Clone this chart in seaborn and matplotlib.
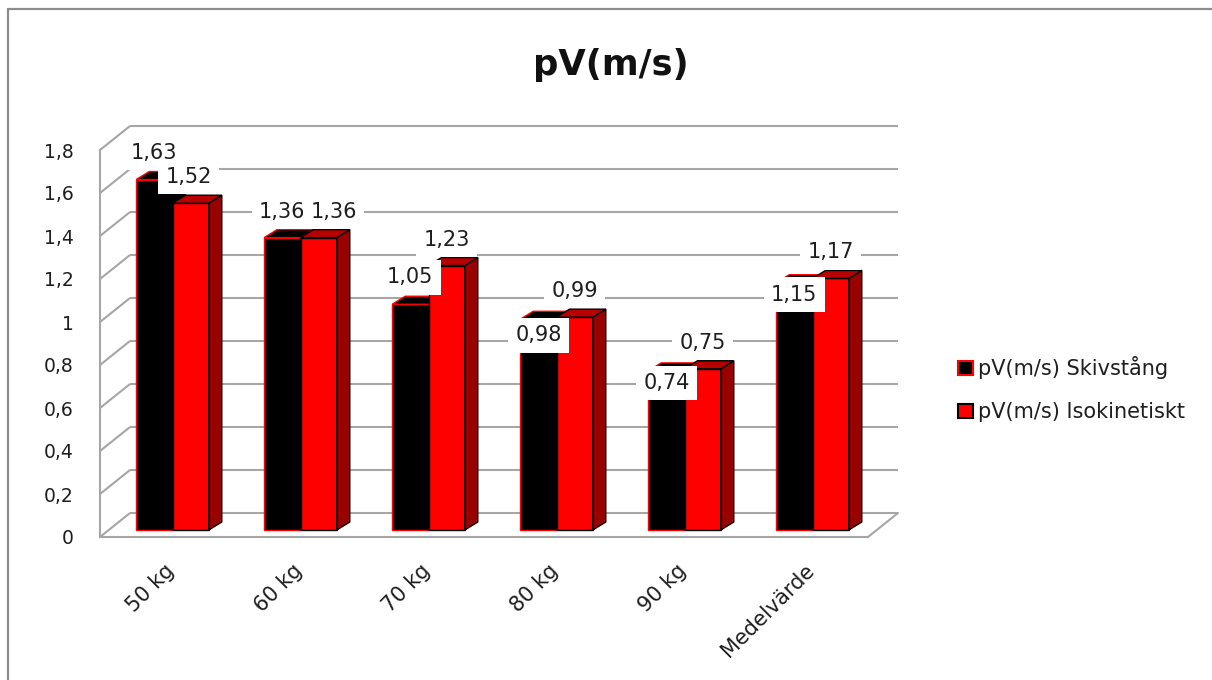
import matplotlib
matplotlib.use("Agg")
import matplotlib.pyplot as plt
import pandas as pd
import seaborn as sns
from matplotlib.patches import Polygon, Patch
from matplotlib.lines import Line2D
from matplotlib.transforms import ScaledTranslation

# ---- data -------------------------------------------------------------
categories = ["50 kg", "60 kg", "70 kg", "80 kg", "90 kg", "Medelvärde"]
skivstang = [1.63, 1.36, 1.05, 0.98, 0.74, 1.15]
isokinetiskt = [1.52, 1.36, 1.23, 0.99, 0.75, 1.17]
series_names = ["pV(m/s) Skivstång", "pV(m/s) Isokinetiskt"]
y_ticks = [0, 0.2, 0.4, 0.6, 0.8, 1.0, 1.2, 1.4, 1.6, 1.8]
chart_title = "pV(m/s)"

# ---- styling / layout -------------------------------------------------
W, H, DPI = 1212, 680, 100
BLACK, RED = "#000000", "#ff0000"
RED_TOP, RED_SIDE = "#b80000", "#990000"
GRID = "#a6a6a6"
TEXT = "#1e1e1e"

# front plane of the 3-D box (pixels)
AX_L, AX_R, AX_B, AX_T = 100, 868, 537, 150
WALL_DX, WALL_DY = 30, 24      # depth of walls/floor (px)
BAR_DX, BAR_DY = 13, 8         # depth of each column (px)
BAR_SHIFT = (8.5, 7)           # column front faces sit slightly behind the front plane

# per-label nudges (px) to keep value labels from colliding
label_dy_black = [27, 26, 27, -16, -12, -12]
label_dx_red = [-2, 15, 0, 0, 0, 0]
LABEL_DY_RED = 26

sns.set_theme(style="white")
plt.rcParams["font.family"] = ["DejaVu Sans"]

fig = plt.figure(figsize=(W / DPI, H / DPI), dpi=DPI)
ax = fig.add_axes([AX_L / W, 1 - AX_B / H, (AX_R - AX_L) / W, (AX_B - AX_T) / H])

df = pd.DataFrame({
    "category": categories * 2,
    "series": [series_names[0]] * len(categories) + [series_names[1]] * len(categories),
    "value": skivstang + isokinetiskt,
})

sns.barplot(data=df, x="category", y="value", hue="series", order=categories,
            hue_order=series_names, palette=[BLACK, RED], saturation=1,
            width=0.567, legend=False, ax=ax)

ax.set_xlim(-0.5, len(categories) - 0.5)
ax.set_ylim(0, 1.8)

# pixel -> data unit conversion
px_x = (ax.get_xlim()[1] - ax.get_xlim()[0]) / (AX_R - AX_L)
px_y = (ax.get_ylim()[1] - ax.get_ylim()[0]) / (AX_B - AX_T)

# ---- walls, floor and gridlines ---------------------------------------
x_left, x_right = ax.get_xlim()
wdx, wdy = WALL_DX * px_x, WALL_DY * px_y
for t in y_ticks:
    ax.plot([x_left, x_left + wdx], [t, t + wdy], color=GRID, lw=1.5,
            clip_on=False, zorder=1, solid_capstyle="butt")
    ax.plot([x_left + wdx, x_right + wdx], [t + wdy, t + wdy], color=GRID, lw=1.5,
            clip_on=False, zorder=1, solid_capstyle="butt")
ax.plot([x_right, x_right + wdx], [0, wdy], color=GRID, lw=1.5, clip_on=False, zorder=1)

for side in ["top", "right"]:
    ax.spines[side].set_visible(False)
for side in ["left", "bottom"]:
    ax.spines[side].set_color(GRID)
    ax.spines[side].set_linewidth(1.5)
ax.grid(False)

# ---- 3-D columns ------------------------------------------------------
bar_tf = ax.transData + ScaledTranslation(BAR_SHIFT[0] / DPI, BAR_SHIFT[1] / DPI,
                                          fig.dpi_scale_trans)
bdx, bdy = BAR_DX * px_x, BAR_DY * px_y

styles = [
    dict(face=BLACK, edge=RED, top=BLACK, side=BLACK, z=3),
    dict(face=RED, edge=BLACK, top=RED_TOP, side=RED_SIDE, z=4),
]
values = [skivstang, isokinetiskt]

for k, cont in enumerate(ax.containers):
    st = styles[k]
    for i, bar in enumerate(cont):
        bar.set_transform(bar_tf)
        bar.set_facecolor(st["face"])
        bar.set_edgecolor(st["edge"])
        bar.set_linewidth(1.0)
        bar.set_zorder(st["z"])
        bar.set_clip_on(False)
        x0 = bar.get_x()
        x1 = x0 + bar.get_width()
        h = bar.get_height()
        top = Polygon([(x0, h), (x1, h), (x1 + bdx, h + bdy), (x0 + bdx, h + bdy)],
                      closed=True, facecolor=st["top"], edgecolor=st["edge"], lw=1.0,
                      transform=bar_tf, zorder=st["z"], clip_on=False)
        side = Polygon([(x1, 0), (x1 + bdx, bdy), (x1 + bdx, h + bdy), (x1, h)],
                       closed=True, facecolor=st["side"], edgecolor=BLACK, lw=1.0,
                       transform=bar_tf, zorder=st["z"], clip_on=False)
        ax.add_patch(side)
        ax.add_patch(top)

        v = values[k][i]
        if k == 0:
            off = (0, label_dy_black[i])
        else:
            off = (label_dx_red[i], LABEL_DY_RED)
        ax.annotate(f"{v:.2f}".replace(".", ","), xy=((x0 + x1) / 2, h), xycoords=bar_tf,
                    xytext=off, textcoords="offset pixels", ha="center", va="center",
                    fontsize=15, color=TEXT, zorder=10 + k,
                    bbox=dict(boxstyle="square,pad=0.35", facecolor="white",
                              edgecolor="none"))

# ---- axes text ---------------------------------------------------------
ax.set_yticks(y_ticks, labels=[f"{t:g}".replace(".", ",") for t in y_ticks])
ax.set_xticks(range(len(categories)), labels=categories)
ax.tick_params(axis="y", length=0, pad=19, labelsize=13.5, labelcolor=TEXT)
ax.tick_params(axis="x", length=0, pad=17, labelsize=15, labelcolor=TEXT)
for lab in ax.get_xticklabels():
    lab.set_rotation(45)
    lab.set_ha("right")
    lab.set_va("top")
    lab.set_rotation_mode("anchor")
ax.set_xlabel("")
ax.set_ylabel("")

fig.text(611 / W, 1 - 75 / H, chart_title, ha="center", va="baseline",
         fontsize=25.5, fontweight="bold", color="#111111")

handles = [
    Patch(facecolor=BLACK, edgecolor=RED, linewidth=1.5),
    Patch(facecolor=RED, edgecolor=BLACK, linewidth=1.5),
]
fig.legend(handles, series_names, loc="center left",
           bbox_to_anchor=(958 / W, 1 - 389 / H), frameon=False, fontsize=15,
           handlelength=0.72, handleheight=0.68, handletextpad=0.25,
           labelspacing=1.1, borderpad=0, borderaxespad=0, labelcolor=TEXT)

# outer chart-area frame
fig.add_artist(Line2D([8 / W, 8 / W], [-0.05, 1 - 9 / H], color="#8c8c8c", lw=1.6,
                      transform=fig.transFigure))
fig.add_artist(Line2D([8 / W, 1.05], [1 - 9 / H, 1 - 9 / H], color="#8c8c8c", lw=1.6,
                      transform=fig.transFigure))

fig.savefig("out.png", dpi=DPI, facecolor="white")
